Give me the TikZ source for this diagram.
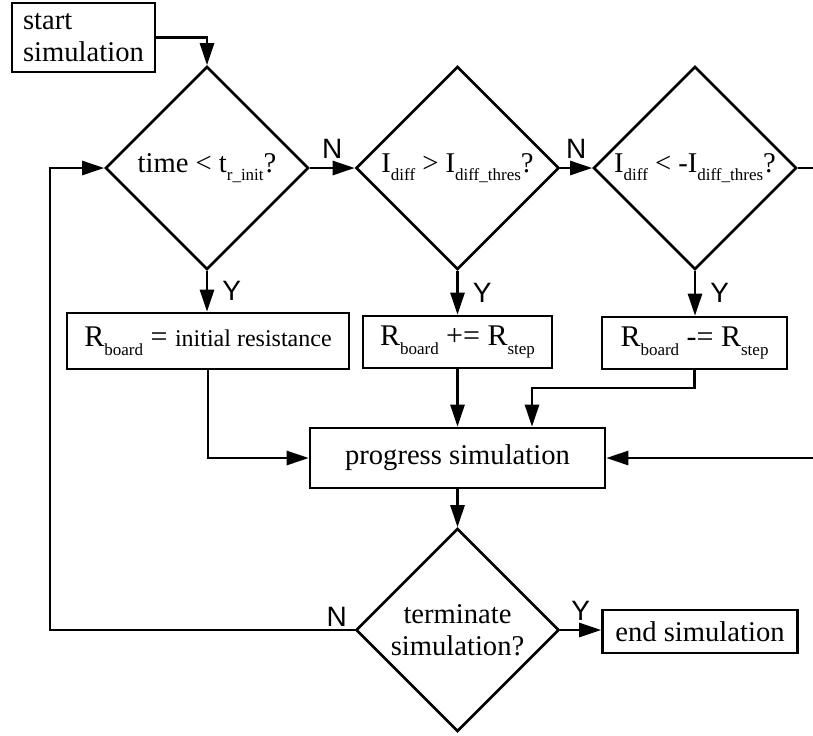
\documentclass[tikz,border=0pt]{standalone}
\usepackage{fontspec}
\setmainfont{Liberation Serif}
\setsansfont{Liberation Sans}
\usetikzlibrary{shapes.geometric,arrows.meta}

% lowered small text for the variable names
\newcommand{\lo}[1]{\raisebox{-0.3em}{\fontsize{8.5}{9}\selectfont #1}}

\begin{document}
\begin{tikzpicture}[x=0.5pt, y=-0.5pt, line width=1.3pt,
		every node/.style={font=\fontsize{14.3}{16}\selectfont},
		box/.style={draw, rectangle, inner sep=0pt},
		choice/.style={draw, diamond, aspect=1, inner sep=0pt,
			minimum width=101.5pt, minimum height=101.5pt, align=center},
		arr/.style={-{Triangle[length=11pt,width=7pt]}},
		yn/.style={font=\sffamily\fontsize{14}{16}\selectfont, inner sep=1pt}]
	\useasboundingbox (0,0) rectangle (813,735);

	\node[box, minimum width=71.5pt, minimum height=34.5pt, align=left] (start) at (83.5,37.5) {start\\simulation};

	\node[choice] (d1) at (207,168) {time < t\lo{r\_init}?};
	\node[choice] (d2) at (457.5,168) {I\lo{diff} > I\lo{diff\_thres}?};
	\node[choice] (d3) at (695,168) {I\lo{diff} < -I\lo{diff\_thres}?};

	\node[box, minimum width=141pt, minimum height=28pt] (b1) at (208,341)
		{\fontsize{15}{17}\selectfont R\lo{board} = {\fontsize{12}{14}\selectfont initial resistance}};
	\node[box, minimum width=94.5pt, minimum height=26pt] (b2) at (457.5,342)
		{\fontsize{15}{17}\selectfont R\lo{board} += R\lo{step}};
	\node[box, minimum width=92.5pt, minimum height=26pt] (b3) at (694.5,343)
		{\fontsize{15}{17}\selectfont R\lo{board} -= R\lo{step}};

	\node[box, minimum width=147.5pt, minimum height=30pt] (prog) at (457.5,458) {progress simulation\hspace{8pt}};
	\node[choice] (d4) at (457.5,630) {terminate\\simulation?};
	\node[box, minimum width=97.5pt, minimum height=21.5pt] (stop) at (700,631.5) {end simulation};

	\coordinate (exitR) at (813,168);
	\coordinate (backR) at (813,458);
	\coordinate (turn) at (532,388);
	\coordinate (loop) at (50,630);

	\draw[arr] (start.east) -| (d1.north);
	\draw[arr] (d1.east) -- node[yn, above=3pt] {N} (d2.west);
	\draw[arr] (d2.east) -- node[yn, above=3pt] {N} (d3.west);
	\draw (d3.east) -- (exitR);

	\draw[arr] (d1.south) -- node[yn, right=6pt] {Y} (d1.south |- b1.north);
	\draw[arr] (d2.south) -- node[yn, right=6pt] {Y} (b2.north);
	\draw[arr] (d3.south) -- node[yn, right=6pt] {Y} (d3.south |- b3.north);

	\draw[arr] (b1.south) |- (prog.west);
	\draw[arr] (b2.south) -- (prog.north);
	\draw[arr] (b3.south) |- (turn) -- (turn |- prog.north);
	\draw[arr] (backR) -- (prog.east);

	\draw[arr] (prog.south) -- (d4.north);
	\draw[arr] (d4.east) -- node[yn, above=3pt] {Y} (d4.east -| stop.west);
	\draw[arr] (d4.west) -- node[yn, pos=0.015, anchor=south east] {N} (loop) |- (d1.west);
\end{tikzpicture}
\end{document}
